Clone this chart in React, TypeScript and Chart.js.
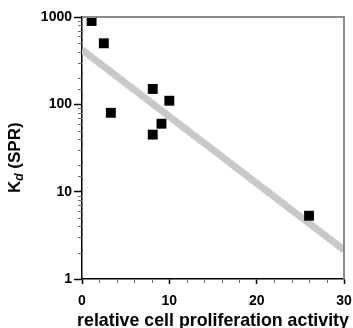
import React, { useEffect, useRef } from 'react';
import { Chart, registerables } from 'chart.js';

Chart.register(...registerables);

const activity = [1.1, 2.5, 3.3, 8.1, 10, 9.1, 8.1, 26];
const kd = [900, 500, 80, 150, 110, 60, 45, 5.3];
const fitX = [0, 30];
const fitY = [420, 2.15];
const yTickLabels = [1, 10, 100, 1000];
const xTickLabels = [0, 10, 20, 30];
const xTitle = 'relative cell proliferation activity';
const yTitleMain = 'K';
const yTitleSub = 'd';
const yTitleRest = ' (SPR)';

const FONT = '"Liberation Sans", Arial, sans-serif';

const decor = {
  id: 'decor',
  afterDraw(chart: any) {
    const { ctx, chartArea } = chart;
    const xs = chart.scales.x;
    const ys = chart.scales.y;
    ctx.save();
    // frame top/right
    ctx.strokeStyle = '#8a8a8a';
    ctx.lineWidth = 2;
    ctx.beginPath();
    ctx.moveTo(chartArea.left, chartArea.top);
    ctx.lineTo(chartArea.right, chartArea.top);
    ctx.lineTo(chartArea.right, chartArea.bottom);
    ctx.stroke();
    // minor ticks
    ctx.strokeStyle = '#6a6a6a';
    ctx.lineWidth = 1;
    ctx.beginPath();
    ys.ticks.forEach((t: any) => {
      if (yTickLabels.includes(t.value)) return;
      const py = Math.round(ys.getPixelForValue(t.value)) + 0.5;
      ctx.moveTo(chartArea.left - 4, py);
      ctx.lineTo(chartArea.left, py);
    });
    xs.ticks.forEach((t: any) => {
      if (xTickLabels.includes(t.value)) return;
      const px = Math.round(xs.getPixelForValue(t.value)) + 0.5;
      ctx.moveTo(px, chartArea.bottom);
      ctx.lineTo(px, chartArea.bottom + 4);
    });
    ctx.stroke();
    // y title
    ctx.fillStyle = '#000';
    ctx.translate(20, 193);
    ctx.rotate(-Math.PI / 2);
    ctx.textAlign = 'left';
    ctx.textBaseline = 'alphabetic';
    ctx.font = `bold 17px ${FONT}`;
    ctx.fillText(yTitleMain, 0, 0);
    let w = ctx.measureText(yTitleMain).width;
    ctx.font = `italic bold 12px ${FONT}`;
    ctx.fillText(yTitleSub, w, 3);
    w += ctx.measureText(yTitleSub).width;
    ctx.font = `bold 17px ${FONT}`;
    ctx.fillText(yTitleRest, w, 0);
    ctx.setTransform(1, 0, 0, 1, 0, 0);
    // x title
    ctx.font = `bold 17.8px ${FONT}`;
    ctx.textAlign = 'center';
    ctx.fillText(xTitle, (chartArea.left + chartArea.right) / 2, 326);
    ctx.restore();
  },
};

export default function App() {
  const ref = useRef<HTMLCanvasElement>(null);
  useEffect(() => {
    if (!ref.current) return;
    const chart = new Chart(ref.current, {
      type: 'scatter',
      data: {
        datasets: [
          {
            label: 'Kd',
            data: activity.map((x, i) => ({ x, y: kd[i] })),
            pointStyle: 'rect',
            pointRadius: 7,
            pointHoverRadius: 7,
            backgroundColor: '#000',
            borderColor: '#000',
            borderWidth: 0,
            clip: false,
          },
          {
            label: 'fit',
            data: fitX.map((x, i) => ({ x, y: fitY[i] })),
            showLine: true,
            pointRadius: 0,
            borderColor: '#c8c8c8',
            borderWidth: 7,
            borderCapStyle: 'butt',
          },
        ],
      } as any,
      options: {
        animation: false,
        responsive: false,
        layout: { padding: { top: 17, right: 9, left: 0, bottom: 0 } },
        plugins: { legend: { display: false }, tooltip: { enabled: false } },
        scales: {
          x: {
            type: 'linear',
            min: 0,
            max: 30,
            afterFit(s: any) {
              s.height = 49;
              s.paddingLeft = 0;
              s.paddingRight = 0;
            },
            border: { display: true, color: '#000', width: 1.5 },
            grid: {
              drawOnChartArea: false,
              tickLength: 5,
              tickWidth: 1.5,
              tickColor: (c: any) => (xTickLabels.includes(c.tick?.value) ? '#000' : 'rgba(0,0,0,0)'),
            },
            ticks: {
              stepSize: 2,
              autoSkip: false,
              maxRotation: 0,
              padding: 9,
              color: '#000',
              font: { family: FONT, size: 14, weight: 'bold' },
              callback: (v: any) => (xTickLabels.includes(v) ? String(v) : ''),
            },
          },
          y: {
            type: 'logarithmic',
            min: 1,
            max: 1000,
            afterFit(s: any) {
              s.width = 82;
              s.paddingTop = 0;
              s.paddingBottom = 0;
            },
            border: { display: true, color: '#000', width: 1.5 },
            grid: {
              drawOnChartArea: false,
              tickLength: 8,
              tickWidth: 1.5,
              tickColor: (c: any) => (yTickLabels.includes(c.tick?.value) ? '#000' : 'rgba(0,0,0,0)'),
            },
            ticks: {
              autoSkip: false,
              padding: 2,
              color: '#000',
              font: { family: FONT, size: 14, weight: 'bold' },
              callback: (v: any) => (yTickLabels.includes(v) ? String(v) : ''),
            },
          },
        },
      } as any,
      plugins: [decor],
    });
    return () => chart.destroy();
  }, []);
  return (
    <div style={{ position: 'absolute', left: 0, top: 0, width: 353, height: 328, background: '#fff' }}>
      <canvas ref={ref} width={353} height={328} />
    </div>
  );
}
